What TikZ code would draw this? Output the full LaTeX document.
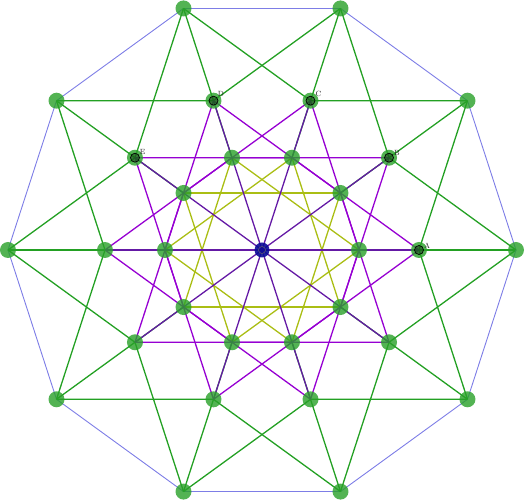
\documentclass[tikz,border=0pt]{standalone}
\usetikzlibrary{backgrounds}
\definecolor{gr}{RGB}{35,160,35}
\definecolor{vio}{RGB}{150,0,210}
\definecolor{ind}{RGB}{100,25,165}
\definecolor{yel}{RGB}{170,190,20}
\definecolor{blu}{RGB}{125,125,230}
\definecolor{ndg}{RGB}{40,160,40}
\definecolor{navyc}{RGB}{10,10,150}
\begin{document}
\begin{tikzpicture}[x=1pt,y=1pt,
  vtx/.style={circle,inner sep=0pt,minimum size=16pt,fill=ndg,fill opacity=0.8,draw=none},
  ctr/.style={circle,inner sep=0pt,minimum size=15pt,fill=navyc,fill opacity=0.9,draw=none},
  lbl/.style={inner sep=0pt,font=\fontsize{7.5}{7.5}\selectfont,text=black!85},
  eblue/.style={blu,line width=0.9pt},
  egreen/.style={gr,line width=1.3pt},
  eyel/.style={yel,line width=1.3pt},
  evio/.style={vio,line width=1.3pt},
  eind/.style={ind,line width=1.3pt}]
\useasboundingbox (-262,-250) rectangle (263,250);
\foreach \m in {0,...,9}{
  \node[vtx] (O\m) at (36*\m:254) {};
  \node[vtx] (M\m) at (36*\m:157) {};
  \node[vtx] (I\m) at (36*\m:97) {};
}
\node[ctr] (C) at (0,0) {};
\begin{pgfonlayer}{background}
\foreach \m [evaluate=\m as \n using {int(mod(\m+1,10))},
             evaluate=\m as \p using {int(mod(\m+9,10))},
             evaluate=\m as \t using {int(mod(\m+3,10))}] in {0,...,9}{
  \draw[eblue] (O\m.center) -- (O\n.center);
  \draw[egreen] (O\m.center) -- (M\n.center);
  \draw[egreen] (O\m.center) -- (M\p.center);
  \draw[egreen] (O\m.center) -- (I\m.center);
  \draw[eyel] (I\m.center) -- (I\t.center);
}
\foreach \m [evaluate=\m as \q using {int(mod(\m+2,10))},
             evaluate=\m as \r using {int(mod(\m+8,10))}] in {0,...,9}{
  \draw[evio] (M\m.center) -- (I\q.center);
  \draw[evio] (M\m.center) -- (I\r.center);
}
\foreach \m in {0,...,9}{
  \draw[eind] (C.center) -- (M\m.center);
}
\end{pgfonlayer}
\foreach \m in {0,...,4}{
  \fill[black,fill opacity=0.35] (M\m.center) circle (4.5);
  \draw[black,line width=0.7pt] (M\m.center) circle (4.5);
}
\draw[black!60,line width=0.5pt] (C.center) circle (3.5);
\node[lbl] (lA) at ([shift={(8,4)}]M0.center) {A};
\node[lbl] (lB) at ([shift={(8,5)}]M1.center) {B};
\node[lbl] (lC) at ([shift={(8,6.5)}]M2.center) {C};
\node[lbl] (lD) at ([shift={(7.5,6.5)}]M3.center) {D};
\node[lbl] (lE) at ([shift={(7.5,5.5)}]M4.center) {E};
\end{tikzpicture}
\end{document}
